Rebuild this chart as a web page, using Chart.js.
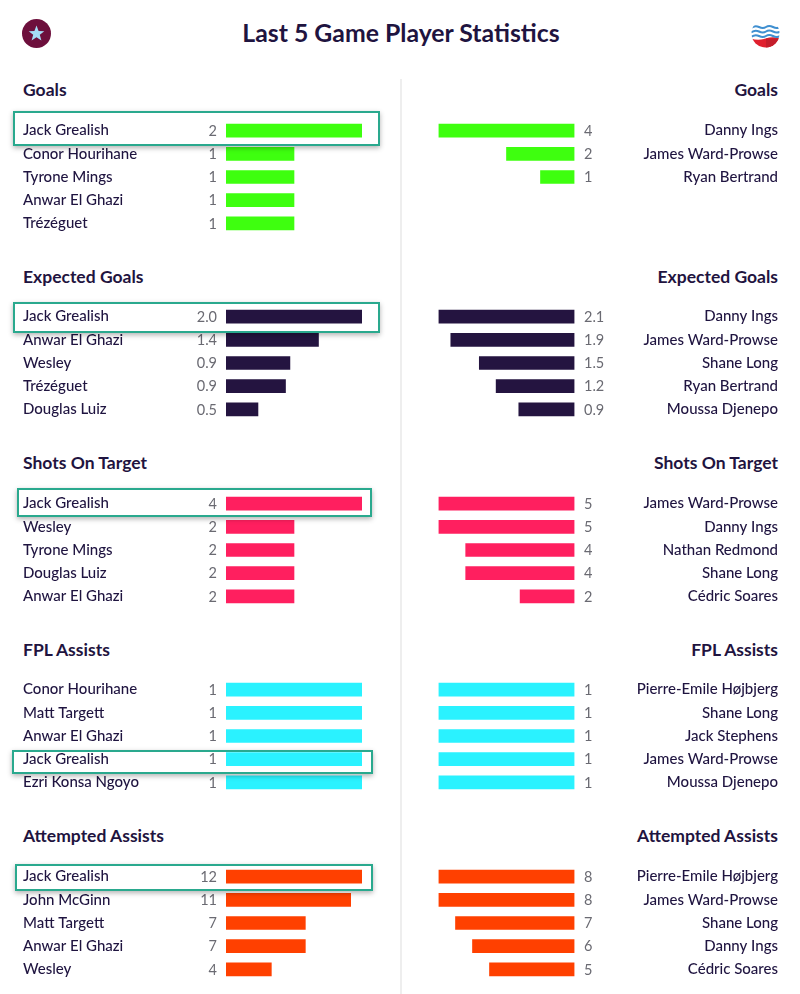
<!DOCTYPE html>
<html>
<head>
<meta charset="utf-8">
<script src="https://cdn.jsdelivr.net/npm/chart.js@4"></script>
<style>
html, body { margin: 0; padding: 0; background: #fff; }
body { position: relative; width: 800px; height: 994px; overflow: hidden; font-family: Lato, sans-serif; color: #1f1440; }
h1 { position: absolute; left: 0; width: 802px; top: 16.5px; margin: 0; text-align: center; font-size: 24.8px; line-height: 32px; font-weight: 700; }
h2 { position: absolute; margin: 0; font-size: 17.5px; line-height: 20px; font-weight: 700; }
canvas { position: absolute; }
.divider { position: absolute; left: 400px; top: 79px; width: 2px; height: 915px; background: #eeeeee; }
.box { position: absolute; box-sizing: border-box; border: 2px solid #2aa98e; box-shadow: 0 2px 5px rgba(0,0,0,0.3); }
.crest { position: absolute; top: 19px; }
</style>
</head>
<body>
<h1>Last 5 Game Player Statistics</h1>
<div class="divider"></div>

<svg class="crest" style="left:22px" width="29" height="29" viewBox="0 0 29 29">
  <circle cx="14.5" cy="14.5" r="14.5" fill="#6d0f3c"/>
  <polygon points="14.5,6.5 16.6,12 22.3,12.2 17.8,15.8 19.4,21.4 14.5,18.2 9.6,21.4 11.2,15.8 6.7,12.2 12.4,12" fill="#a5dcf5"/>
</svg>
<svg class="crest" style="left:751px" width="29" height="29" viewBox="0 0 29 29">
  <clipPath id="saints"><circle cx="14.5" cy="14.5" r="14"/></clipPath>
  <g clip-path="url(#saints)">
    <path d="M0 19.5 Q7 22 14.5 19.5 T29 19.5 V29 H0 Z" fill="#e0202e"/>
    <rect x="15" y="19.5" width="14" height="10" fill="#c41e2b"/>
    <path d="M0 9 Q4 6 8 8 T15 8 T22 8 T29 8" fill="none" stroke="#3f8fd0" stroke-width="2"/>
    <path d="M0 13.5 Q4 10.5 8 12.5 T15 12.5 T22 12.5 T29 12.5" fill="none" stroke="#3f8fd0" stroke-width="2"/>
    <path d="M0 18 Q4 15 8 17 T15 17 T22 17 T29 17" fill="none" stroke="#3f8fd0" stroke-width="2"/>
  </g>
</svg>

<script>
const statNames = ['Goals', 'Expected Goals', 'Shots On Target', 'FPL Assists', 'Attempted Assists'];
const statColors = ['#3eff0f', '#241440', '#ff1f5f', '#2af2ff', '#ff4000'];

// villa
const leftPlayers = [
    ['Jack Grealish', 'Conor Hourihane', 'Tyrone Mings', 'Anwar El Ghazi', 'Trézéguet'],
    ['Jack Grealish', 'Anwar El Ghazi', 'Wesley', 'Trézéguet', 'Douglas Luiz'],
    ['Jack Grealish', 'Wesley', 'Tyrone Mings', 'Douglas Luiz', 'Anwar El Ghazi'],
    ['Conor Hourihane', 'Matt Targett', 'Anwar El Ghazi', 'Jack Grealish', 'Ezri Konsa Ngoyo'],
    ['Jack Grealish', 'John McGinn', 'Matt Targett', 'Anwar El Ghazi', 'Wesley']
];
const leftValues = [
    [2, 1, 1, 1, 1],
    [2.0, 1.36, 0.94, 0.875, 0.47],
    [4, 2, 2, 2, 2],
    [1, 1, 1, 1, 1],
    [12, 11, 7, 7, 4]
];

// southampton
const rightPlayers = [
    ['Danny Ings', 'James Ward-Prowse', 'Ryan Bertrand', '', ''],
    ['Danny Ings', 'James Ward-Prowse', 'Shane Long', 'Ryan Bertrand', 'Moussa Djenepo'],
    ['James Ward-Prowse', 'Danny Ings', 'Nathan Redmond', 'Shane Long', 'Cédric Soares'],
    ['Pierre-Emile Højbjerg', 'Shane Long', 'Jack Stephens', 'James Ward-Prowse', 'Moussa Djenepo'],
    ['Pierre-Emile Højbjerg', 'James Ward-Prowse', 'Shane Long', 'Danny Ings', 'Cédric Soares']
];
const rightValues = [
    [4, 2, 1, null, null],
    [2.1, 1.91, 1.47, 1.21, 0.86],
    [5, 5, 4, 4, 2],
    [1, 1, 1, 1, 1],
    [8, 8, 7, 6, 5]
];

// the green box drawn around Grealish in each left panel
const boxRows = [
    { left: 13, top: 111, width: 367, height: 35 },
    { left: 13, top: 302, width: 367, height: 31 },
    { left: 17, top: 488, width: 355, height: 29 },
    { left: 11.5, top: 750, width: 361, height: 24 },
    { left: 15, top: 864, width: 357.5, height: 27 }
];

const FONT = 'Lato, sans-serif';

// prints the number next to each bar
const valueLabels = {
    id: 'valueLabels',
    afterDatasetsDraw(chart, args, opts) {
        const ctx = chart.ctx;
        const meta = chart.getDatasetMeta(0);
        ctx.save();
        ctx.font = '400 14.5px ' + FONT;
        ctx.fillStyle = '#6a6a72';
        ctx.textBaseline = 'middle';
        ctx.textAlign = opts.right ? 'left' : 'right';
        meta.data.forEach((bar, i) => {
            const v = chart.data.datasets[0].data[i];
            if (v === null) return;
            const txt = opts.decimals ? v.toFixed(1) : String(v);
            const x = opts.right ? chart.chartArea.right + 9.5 : chart.chartArea.left - 9;
            ctx.fillText(txt, x, bar.y + 0.5);
        });
        ctx.restore();
    }
};

function makePanel(side, index) {
    const right = side === 'right';
    const values = right ? rightValues[index] : leftValues[index];
    // the y axis keeps half a label height free above and below, hence the taller canvas
    const top = 109.5 + index * 186.6;
    const canvas = document.createElement('canvas');
    canvas.style.left = (right ? 402 : 0) + 'px';
    canvas.style.top = top + 'px';
    canvas.style.width = '398px';
    canvas.style.height = '134px';
    canvas.width = 398;
    canvas.height = 134;
    document.body.appendChild(canvas);

    new Chart(canvas, {
        type: 'bar',
        data: {
            labels: right ? rightPlayers[index] : leftPlayers[index],
            datasets: [{ data: values, backgroundColor: statColors[index], barThickness: 13 }]
        },
        options: {
            indexAxis: 'y',
            responsive: false,
            animation: false,
            layout: { padding: right ? { left: 36.5, right: 22 } : { left: 23, right: 36 } },
            plugins: {
                legend: { display: false },
                tooltip: { enabled: false },
                valueLabels: { right: right, decimals: index === 1 }
            },
            scales: {
                x: {
                    display: false,
                    reverse: right,
                    min: 0,
                    max: Math.max(...values.filter(v => v !== null))
                },
                y: {
                    position: right ? 'right' : 'left',
                    grid: { display: false },
                    border: { display: false },
                    afterFit(scale) { scale.width = right ? 203.5 : 203; },
                    ticks: {
                        crossAlign: 'far',
                        padding: 0,
                        color: '#1f1440',
                        autoSkip: false,
                        font: { family: FONT, size: 15, weight: '500' }
                    }
                }
            }
        },
        plugins: [valueLabels]
    });
}

statNames.forEach((name, i) => {
    const top = 80 + i * 186.6;
    const l = document.createElement('h2');
    l.textContent = name;
    l.style.left = '23px';
    l.style.top = top + 'px';
    document.body.appendChild(l);
    const r = document.createElement('h2');
    r.textContent = name;
    r.style.right = '22px';
    r.style.top = top + 'px';
    document.body.appendChild(r);

    makePanel('left', i);
    makePanel('right', i);

    const box = document.createElement('div');
    box.className = 'box';
    const b = boxRows[i];
    box.style.left = b.left + 'px';
    box.style.top = b.top + 'px';
    box.style.width = b.width + 'px';
    box.style.height = b.height + 'px';
    document.body.appendChild(box);
});
</script>
</body>
</html>
